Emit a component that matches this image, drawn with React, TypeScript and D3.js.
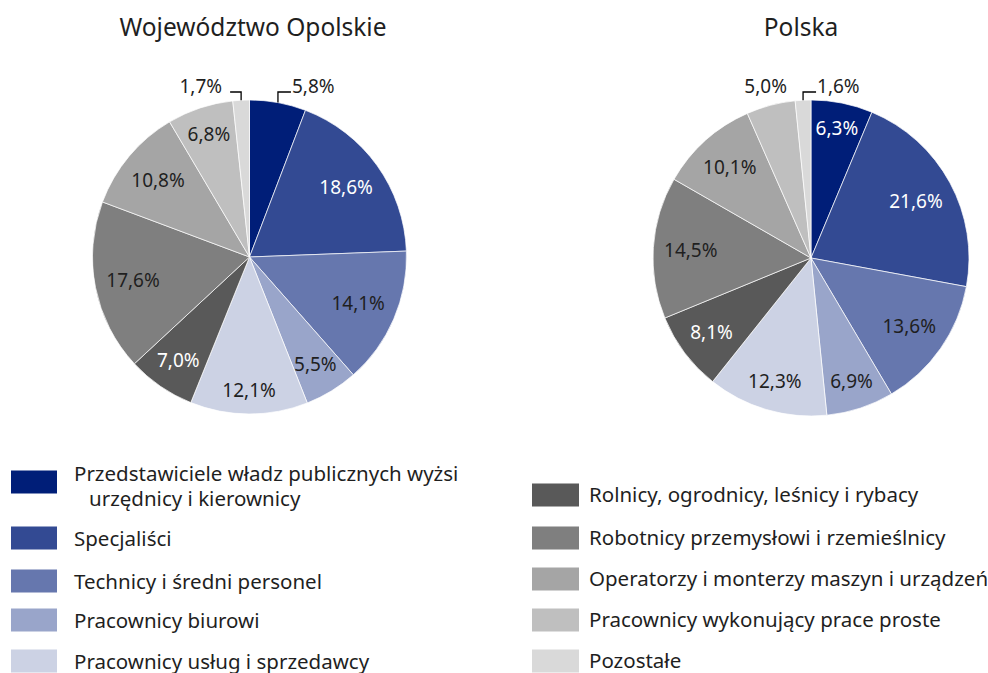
import React from "react";
import * as d3 from "d3";

const categories = [
  "Przedstawiciele władz publicznych wyżsi urzędnicy i kierownicy",
  "Specjaliści",
  "Technicy i średni personel",
  "Pracownicy biurowi",
  "Pracownicy usług i sprzedawcy",
  "Rolnicy, ogrodnicy, leśnicy i rybacy",
  "Robotnicy przemysłowi i rzemieślnicy",
  "Operatorzy i monterzy maszyn i urządzeń",
  "Pracownicy wykonujący prace proste",
  "Pozostałe",
];
const opolskieValues = [5.8, 18.6, 14.1, 5.5, 12.1, 7.0, 17.6, 10.8, 6.8, 1.7];
const polskaValues = [6.3, 21.6, 13.6, 6.9, 12.3, 8.1, 14.5, 10.1, 5.0, 1.6];
const pieTitles = ["Województwo Opolskie", "Polska"];
const colors = [
  "#001E78", "#334A93", "#6677AE", "#99A5CA", "#CCD2E4",
  "#595959", "#7F7F7F", "#A5A5A5", "#BFBFBF", "#D9D9D9",
];

const W = 988;
const H = 673;
const FONT = "'Noto Sans', 'Open Sans', sans-serif";
const TEXT = "#1f1f1f";
const LABEL_FS = 19;

const fmt = (v: number) => v.toFixed(1).replace(".", ",") + "%";
const textW = (s: string) => {
  let w = 0;
  for (const ch of s) {
    if (ch === ",") w += 0.26;
    else if (ch === "%") w += 0.82;
    else w += 0.572;
  }
  return w * LABEL_FS;
};

function fitRadius(theta: number, w: number, h: number, R: number, pad: number) {
  let lo = 0, hi = R;
  for (let i = 0; i < 40; i++) {
    const t = (lo + hi) / 2;
    const cx = t * Math.sin(theta);
    const cy = -t * Math.cos(theta);
    let m = 0;
    for (const sx of [-1, 1]) for (const sy of [-1, 1]) {
      const d = Math.hypot(cx + (sx * w) / 2, cy + (sy * h) / 2);
      if (d > m) m = d;
    }
    if (m <= R - pad) lo = t; else hi = t;
  }
  return lo;
}

function Pie({ values, title, cx, cy, R, titleX }: { values: number[]; title: string; cx: number; cy: number; R: number; titleX: number }) {
  const pie = d3.pie<number>().sort(null).value((d) => d)(values);
  const arc = d3.arc<d3.PieArcDatum<number>>().innerRadius(0).outerRadius(R);
  const degOf = (p: d3.PieArcDatum<number>) => ((((p.startAngle + p.endAngle) / 2) * 180) / Math.PI) % 360;
  const isOutside = (i: number) => {
    const deg = degOf(pie[i]);
    return values[i] < 6 && Math.min(deg, 360 - deg) < 30;
  };
  return (
    <g>
      <text x={titleX} y={36} textAnchor="middle" fontSize={24.5} fill={TEXT} fontFamily={FONT}>{title}</text>
      <g transform={`translate(${cx},${cy})`}>
        {pie.map((p, i) => (
          <path key={i} d={arc(p) || ""} fill={colors[i]} stroke="#ffffff" strokeWidth={0.7} />
        ))}
        {pie.map((p, i) => {
          const v = values[i];
          const theta = (p.startAngle + p.endAngle) / 2;
          const deg = degOf(p);
          const topDist = Math.min(deg, 360 - deg);
          const label = fmt(v);
          const w = textW(label);
          if (isOutside(i)) {
            const ex = R * Math.sin(theta);
            const ey = -R * Math.cos(theta);
            const ly = -R - 8;
            const ty = -R - 14;
            if (topDist < 12) {
              const leftTaken = values.some((_, j) => j !== i && isOutside(j) && degOf(pie[j]) > 180 && degOf(pie[j]) < deg);
              const right = deg < 180 || leftTaken;
              const hx = ex + (right ? 13 : -11);
              return (
                <g key={"l" + i}>
                  <polyline points={`${ex},${ey} ${ex},${ly} ${hx},${ly}`} fill="none" stroke="#000" strokeWidth={1.3} />
                  <text x={hx + (right ? 1 : -8)} y={ty} dy="0.35em" textAnchor={right ? "start" : "end"} fontSize={LABEL_FS} fill={TEXT} fontFamily={FONT}>{label}</text>
                </g>
              );
            }
            const r2 = R + 20;
            return (
              <text key={"l" + i} x={r2 * Math.sin(theta)} y={-r2 * Math.cos(theta)} dy="0.35em" textAnchor="middle" fontSize={LABEL_FS} fill={TEXT} fontFamily={FONT}>{label}</text>
            );
          }
          const t = fitRadius(theta, w, 22, R, 10);
          const dark = d3.hsl(colors[i]).l < 0.45;
          return (
            <text key={"l" + i} x={t * Math.sin(theta)} y={-t * Math.cos(theta)} dy="0.35em" textAnchor="middle" fontSize={LABEL_FS} fill={dark ? "#ffffff" : TEXT} fontFamily={FONT}>{label}</text>
          );
        })}
      </g>
    </g>
  );
}

export default function App() {
  const leftItems = categories.slice(0, 5);
  const rightItems = categories.slice(5);
  const leftY = [482, 538, 581, 620, 661];
  const rightY = [495, 538, 579, 620, 661];
  const LFS = 20.5;
  return (
    <svg width={W} height={H} style={{ position: "absolute", left: 0, top: 0, background: "#fff" }}>
      <Pie values={opolskieValues} title={pieTitles[0]} cx={249.5} cy={257} R={157} titleX={253} />
      <Pie values={polskaValues} title={pieTitles[1]} cx={811} cy={258} R={158} titleX={801} />
      {leftItems.map((c, i) => {
        const y = leftY[i];
        const first = i === 0;
        return (
          <g key={"lg" + i}>
            <rect x={11} y={y - 11.5} width={46} height={23} fill={colors[i]} />
            {first ? (
              <text fontSize={LFS} fill={TEXT} fontFamily={FONT}>
                <tspan x={74} y={474} dy="0.35em">Przedstawiciele władz publicznych wyżsi</tspan>
                <tspan x={89} y={499} dy="0.35em">urzędnicy i kierownicy</tspan>
              </text>
            ) : (
              <text x={74} y={y + 1} dy="0.35em" fontSize={LFS} fill={TEXT} fontFamily={FONT}>{c}</text>
            )}
          </g>
        );
      })}
      {rightItems.map((c, i) => {
        const y = rightY[i];
        return (
          <g key={"rg" + i}>
            <rect x={532} y={y - 11.5} width={47} height={23} fill={colors[i + 5]} />
            <text x={589} y={y} dy="0.35em" fontSize={LFS} fill={TEXT} fontFamily={FONT}>{c}</text>
          </g>
        );
      })}
    </svg>
  );
}
